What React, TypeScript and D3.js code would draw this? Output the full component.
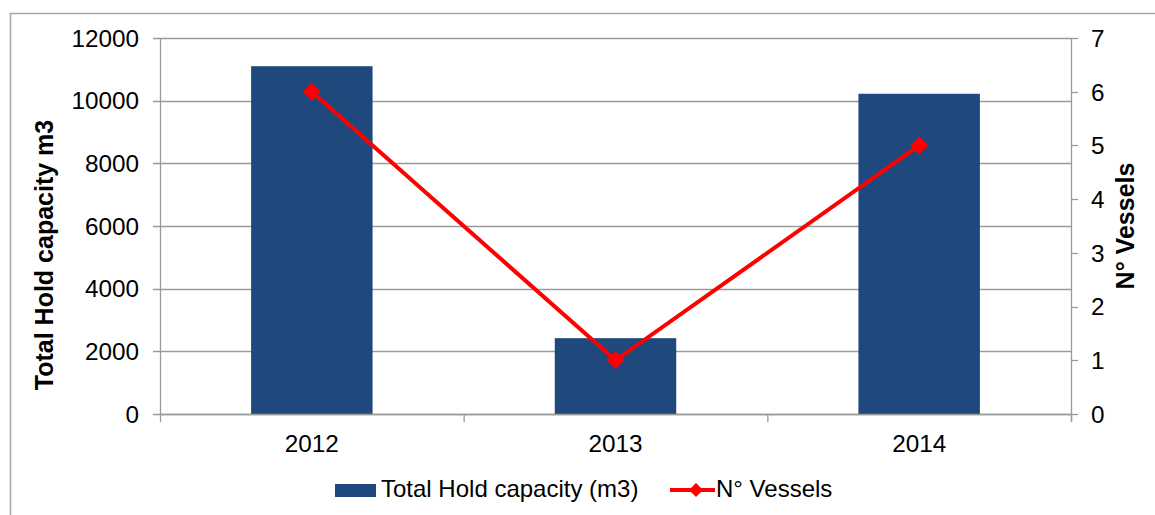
import React from "react";
import * as d3 from "d3";

const categories = ["2012", "2013", "2014"];
const holdCapacity = [11100, 2420, 10220];
const vessels = [6, 1, 5];
const leftTicks = [0, 2000, 4000, 6000, 8000, 10000, 12000];
const rightTicks = [0, 1, 2, 3, 4, 5, 6, 7];

const W = 1155;
const H = 515;
const FONT = "'Liberation Sans', Arial, sans-serif";
const BAR = "#1F497D";
const RED = "#FF0000";
const GRID = "#9a9a9a";

export default function App() {
  const left = 160, right = 1071, top = 38, bottom = 414;
  const x = d3.scaleBand<string>().domain(categories).range([left, right]).padding(0);
  const yL = d3.scaleLinear().domain([0, 12000]).range([bottom, top]);
  const yR = d3.scaleLinear().domain([0, 7]).range([bottom, top]);
  const bw = x.bandwidth() * 0.4;
  const cx = (c: string) => (x(c) as number) + x.bandwidth() / 2;
  const line = d3.line<number>().x((_, i) => cx(categories[i])).y((d) => yR(d));
  const diamond = (px: number, py: number, r: number) =>
    `M${px},${py - r}L${px + r},${py}L${px},${py + r}L${px - r},${py}Z`;
  const bounds = [left, ...categories.map((c) => (x(c) as number) + x.bandwidth())];

  return (
    <svg width={W} height={H} style={{ position: "absolute", left: 0, top: 0 }} fontFamily={FONT}>
      <rect x={0} y={0} width={W} height={H} fill="#fff" />
      <rect x={10.5} y={13.5} width={W + 10} height={H + 10} fill="none" stroke="#a6a6a6" strokeWidth={1.5} />
      {leftTicks.map((t) => (
        <line key={"g" + t} x1={left - 7} x2={right} y1={Math.round(yL(t)) + 0.5} y2={Math.round(yL(t)) + 0.5} stroke={GRID} strokeWidth={1.3} />
      ))}
      {leftTicks.map((t) => (
        <text key={"lt" + t} x={139} y={yL(t) + 8.8} textAnchor="end" fontSize={24.3} fill="#000">{t}</text>
      ))}
      {rightTicks.map((t) => (
        <g key={"rt" + t}>
          <line x1={right} x2={right + 7} y1={Math.round(yR(t)) + 0.5} y2={Math.round(yR(t)) + 0.5} stroke={GRID} strokeWidth={1.3} />
          <text x={1091} y={yR(t) + 8.8} textAnchor="start" fontSize={24.3} fill="#000">{t}</text>
        </g>
      ))}
      <line x1={left + 0.5} x2={left + 0.5} y1={top} y2={bottom + 1} stroke={GRID} strokeWidth={1.3} />
      <line x1={right + 0.5} x2={right + 0.5} y1={top} y2={bottom + 8} stroke={GRID} strokeWidth={1.3} />
      {bounds.map((b, i) => (
        <line key={"bt" + i} x1={b + 0.5} x2={b + 0.5} y1={bottom} y2={bottom + 8} stroke={GRID} strokeWidth={1.3} />
      ))}
      {categories.map((c, i) => (
        <rect key={"b" + c} x={cx(c) - bw / 2} y={yL(holdCapacity[i])} width={bw} height={bottom - yL(holdCapacity[i])} fill={BAR} />
      ))}
      <line x1={left} x2={right} y1={bottom + 0.5} y2={bottom + 0.5} stroke={GRID} strokeWidth={1.3} />
      {categories.map((c) => (
        <text key={"xl" + c} x={cx(c)} y={452} textAnchor="middle" fontSize={24.3} fill="#000">{c}</text>
      ))}
      <path d={line(vessels) || ""} fill="none" stroke={RED} strokeWidth={4} />
      {vessels.map((v, i) => (
        <path key={"m" + i} d={diamond(cx(categories[i]), yR(v), 9)} fill={RED} />
      ))}
      <text transform={`translate(53,255) rotate(-90)`} textAnchor="middle" fontSize={25} fontWeight="bold" fill="#000">Total Hold capacity m3</text>
      <text transform={`translate(1134,226) rotate(-90)`} textAnchor="middle" fontSize={25} fontWeight="bold" fill="#000">N° Vessels</text>
      <rect x={335} y={484} width={41} height={13} fill={BAR} />
      <text x={381} y={497} fontSize={24} fill="#000">Total Hold capacity (m3)</text>
      <line x1={670} x2={715} y1={490} y2={490} stroke={RED} strokeWidth={4} />
      <path d={diamond(696, 490, 7)} fill={RED} />
      <text x={716} y={497} fontSize={24} fill="#000">N° Vessels</text>
    </svg>
  );
}
